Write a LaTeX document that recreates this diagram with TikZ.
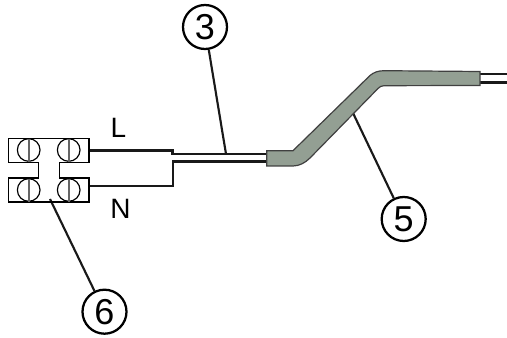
\documentclass[tikz,border=0pt]{standalone}
\usepackage{fontspec}
\setmainfont{Liberation Sans}
\tikzset{
  px/.style={x=0.75pt,y=-0.75pt},
  wire/.style={draw=black!90,line width=1.8pt,line join=miter},
  lead/.style={draw=black!90,line width=1.6pt},
  callout/.style={circle,draw=black,line width=1.7pt,minimum size=33pt,inner sep=0pt,font=\fontsize{27}{27}\selectfont},
  lbl/.style={inner sep=0pt,font=\fontsize{21}{22}\selectfont},
  screw/.style={circle,draw=black,line width=0.9pt,minimum size=17pt,inner sep=0pt},
  slot/.style={draw=black!60,line width=1.7pt},
  block/.style={draw=black,line width=0.9pt},
  cable/.style={fill=cablegreen,draw=black!75,line width=0.9pt},
}
\definecolor{cablegreen}{HTML}{939F93}
\begin{document}
\begin{tikzpicture}[px]
\useasboundingbox (0,0) rectangle (507,338);
\node[callout] (c3) at (205,27) {\raisebox{-2.2pt}{3}};
\node[callout] (c5) at (403.7,219) {5};
\node[callout] (c6) at (104.5,311.7) {6};
\node[lbl] (L) at (118.5,128) {L};
\node[lbl] (N) at (120.5,209) {N};
\coordinate (p3) at (226,154);
\coordinate (p5) at (353,113);
\coordinate (p6) at (50,199);
\draw[lead] (c3) -- (p3);
\draw[lead] (c5) -- (p5);
\draw[lead] (c6) -- (p6);
\coordinate (tl) at (89,150.5);
\coordinate (tn) at (89,186);
\coordinate (cl) at (267,154);
\coordinate (cn) at (267,161.5);
\draw[wire] (tl) -- (172.5,150.5) -- (172.5,154) -- (cl);
\draw[wire] (tn) -- (173,186) -- (173,161.5) -- (cn);
\coordinate (rl) at (480,74);
\coordinate (rn) at (480,82.7);
\draw[wire] (rl) -- (507,74);
\draw[wire] (rn) -- (507,82.7);
\draw[cable] (266.7,150.7) -- (293,150.7) -- (370,75.5) .. controls (373.5,72.5) and (378,70.7) .. (384,70.7)
  -- (480,71.5) -- (480,85.5) -- (384,85.7) .. controls (381,86) and (380,86.5) .. (378,88.5) -- (310,158)
  .. controls (305,163) and (299,166) .. (293,166) -- (266.7,166) -- cycle;
\draw[block] (8.7,138.3) -- (89,138.3) -- (89,162.5) -- (59.3,162.5) -- (59.3,178) -- (89,178) -- (89,202)
  -- (8.7,202) -- (8.7,178) -- (38.7,178) -- (38.7,162.5) -- (8.7,162.5) -- cycle;
\foreach \n/\x/\y in {a/28.7/150,b/68.7/150,c/28.7/190,d/68.7/190}{
  \node[screw] (s\n) at (\x,\y) {};
  \draw[slot] (s\n.north) ++(0,0.5) -- (s\n.south);
}
\end{tikzpicture}
\end{document}
